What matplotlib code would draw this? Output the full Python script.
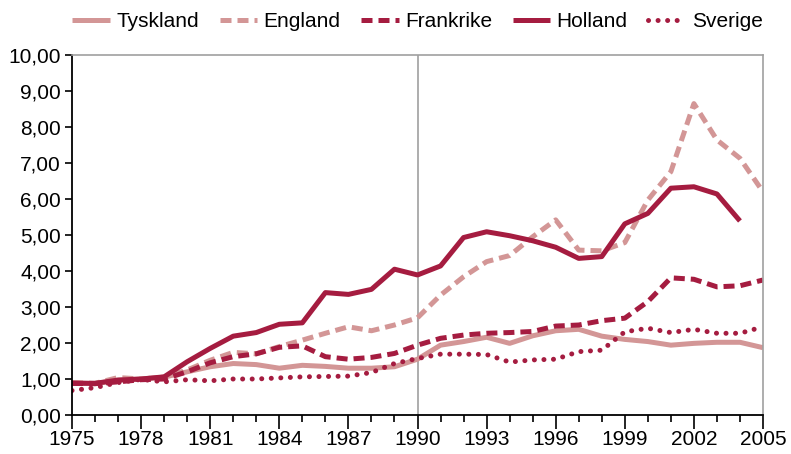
import matplotlib
matplotlib.use("Agg")
import matplotlib.pyplot as plt
from matplotlib.ticker import MultipleLocator, FixedLocator
import numpy as np

plt.rcParams['font.family'] = ['Liberation Sans', 'DejaVu Sans']

years = list(range(1975, 2006))
tyskland = [0.90, 0.87, 0.97, 1.00, 1.05, 1.20, 1.34, 1.43, 1.40, 1.30, 1.38, 1.35, 1.30, 1.30, 1.34, 1.55,
            1.94, 2.04, 2.16, 1.99, 2.20, 2.34, 2.38, 2.19, 2.10, 2.04, 1.94, 1.99, 2.02, 2.02, 1.87]
england = [0.90, 0.88, 1.04, 1.00, 1.05, 1.25, 1.52, 1.74, 1.70, 1.90, 2.08, 2.27, 2.45, 2.34, 2.50, 2.70,
           3.33, 3.84, 4.26, 4.43, 4.95, 5.42, 4.58, 4.56, 4.79, 5.97, 6.76, 8.65, 7.64, 7.13, 6.20]
frankrike = [0.88, 0.87, 0.92, 0.98, 1.00, 1.20, 1.45, 1.62, 1.70, 1.88, 1.92, 1.62, 1.55, 1.60, 1.71, 1.94,
             2.13, 2.22, 2.27, 2.29, 2.32, 2.47, 2.50, 2.62, 2.69, 3.15, 3.81, 3.77, 3.56, 3.59, 3.75]
holland = [0.88, 0.88, 0.97, 1.00, 1.06, 1.48, 1.85, 2.19, 2.29, 2.52, 2.56, 3.40, 3.35, 3.49, 4.05, 3.89,
           4.14, 4.93, 5.09, 4.98, 4.84, 4.66, 4.35, 4.40, 5.31, 5.60, 6.30, 6.34, 6.14, 5.39, None]
sverige = [0.68, 0.76, 0.90, 0.99, 0.92, 0.98, 0.95, 1.00, 1.00, 1.03, 1.06, 1.07, 1.08, 1.18, 1.43, 1.57,
           1.69, 1.69, 1.68, 1.47, 1.53, 1.55, 1.76, 1.80, 2.31, 2.41, 2.29, 2.38, 2.27, 2.27, 2.45]
ytick_labels = ['0,00', '1,00', '2,00', '3,00', '4,00', '5,00', '6,00', '7,00', '8,00', '9,00', '10,00']
xtick_years = list(range(1975, 2006, 3))

light = '#D39696'
dark = '#A51C40'

fig = plt.figure(figsize=(7.91, 4.54), dpi=100)
ax = fig.add_axes([72/791, 1-415/454, (763-72)/791, (415-55)/454])

lw = 3.6
hol = np.array([np.nan if v is None else v for v in holland], dtype=float)
ax.plot(years, tyskland, color=light, lw=lw, label='Tyskland', solid_capstyle='butt')
ax.plot(years, england, color=light, lw=lw, ls=(0, (2.2, 1.2)), label='England', dash_capstyle='butt')
ax.plot(years, frankrike, color=dark, lw=lw, ls=(0, (2.2, 1.2)), label='Frankrike', dash_capstyle='butt')
ax.plot(years, hol, color=dark, lw=lw, label='Holland', solid_capstyle='butt')
ax.plot(years, sverige, color=dark, lw=lw, ls=(0, (0.01, 1.9)), label='Sverige', dash_capstyle='round')

ax.axvline(1990, color='#A0A0A0', lw=1.2, zorder=0)

ax.set_xlim(1975, 2005)
ax.set_ylim(0, 10)
ax.set_xticks(xtick_years)
ax.set_xticklabels([str(y) for y in xtick_years])
ax.xaxis.set_minor_locator(MultipleLocator(1))
ax.set_yticks(range(0, 11))
ax.set_yticklabels(ytick_labels)

fs = 15
ax.tick_params(axis='x', which='major', direction='out', length=10, width=1.2, labelsize=fs, pad=1)
ax.tick_params(axis='x', which='minor', direction='out', length=5, width=1.2)
ax.tick_params(axis='y', which='major', direction='out', length=5, width=1.2, labelsize=fs, pad=3)

for s in ['left', 'bottom']:
    ax.spines[s].set_color('black')
    ax.spines[s].set_linewidth(1.3)
for s in ['top', 'right']:
    ax.spines[s].set_color('#A0A0A0')
    ax.spines[s].set_linewidth(1.2)

fig.legend(loc='upper center', bbox_to_anchor=(0.528, 1.015), ncol=5, frameon=False,
           fontsize=fs, handlelength=1.8, columnspacing=1.0, handletextpad=0.3)

fig.savefig('out.png', dpi=100)
